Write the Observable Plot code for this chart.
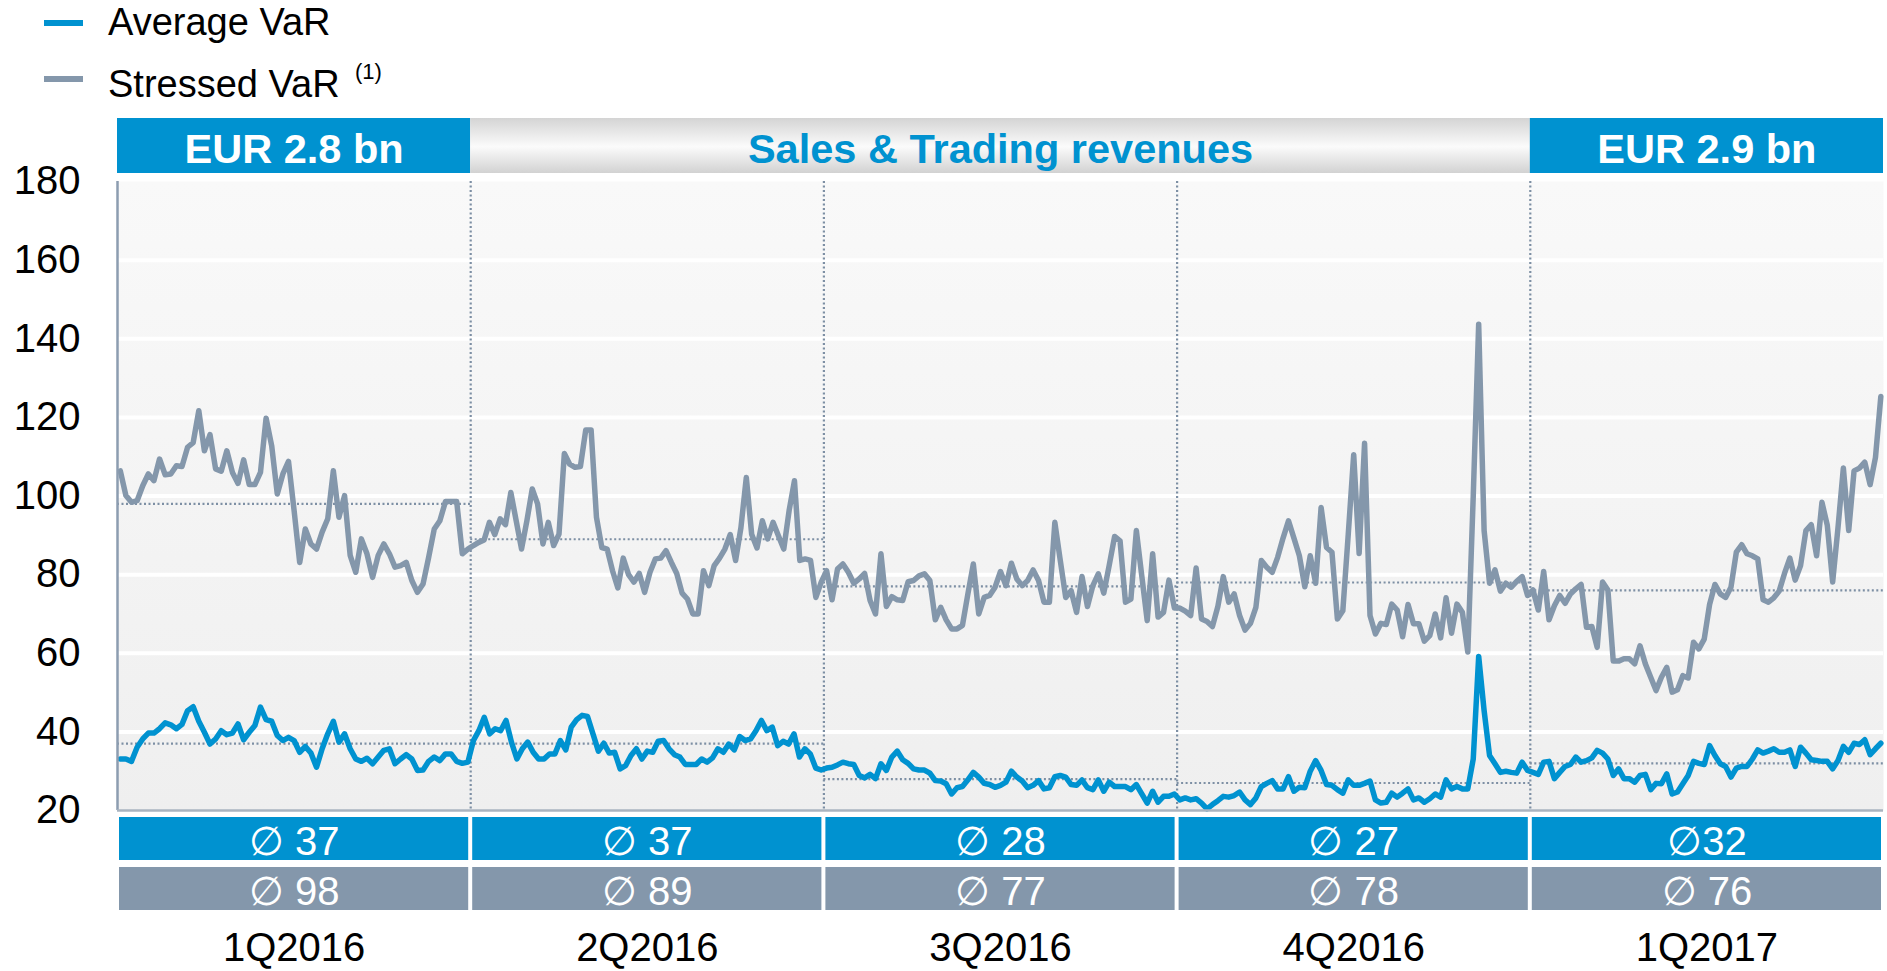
<!DOCTYPE html>
<html>
<head>
<meta charset="utf-8">
<script src="https://cdn.jsdelivr.net/npm/d3@7"></script>
<script src="https://cdn.jsdelivr.net/npm/@observablehq/plot@0.6"></script>
<style>
  body { margin: 0; background: #fff; font-family: "Liberation Sans", Arial, sans-serif; }
  #page { position: relative; width: 1887px; height: 971px; overflow: hidden; background: #fff; }
  .sw { position: absolute; width: 39px; height: 6px; }
  .lt { position: absolute; font-size: 38px; line-height: 44px; color: #000; white-space: nowrap; }
  .sup { position: absolute; font-size: 22px; line-height: 26px; color: #000; white-space: nowrap; }
  .slot { position: absolute; left: 0; }
</style>
</head>
<body>
<div id="page">
  <div id="legend"></div>
  <div class="slot" id="hdr" style="top:118px"></div>
  <div class="slot" id="main" style="top:173px"></div>
  <div class="slot" id="bot" style="top:810px"></div>
</div>
<script>
// ---------------- DATA ----------------
const quarters = ["1Q2016", "2Q2016", "3Q2016", "4Q2016", "1Q2017"];
const seriesNames = ["Average VaR", "Stressed VaR"];

// Quarterly averages (dotted lines and boxes)
const avgVaR = [37, 37, 28, 27, 32];
const avgSVaR = [98, 89, 77, 78, 76];
const avgVaRLabels = ["∅ 37", "∅ 37", "∅ 28", "∅ 27", "∅32"];
const avgSVaRLabels = ["∅ 98", "∅ 89", "∅ 77", "∅ 78", "∅ 76"];

// Header banner
const headerLabels = ["EUR 2.8 bn", "Sales & Trading revenues", "EUR 2.9 bn"];
const headerFromQuarter = [0, 1, 4];
const headerToQuarter = [1, 4, 5];
const headerHighlighted = [true, false, true];

const yTicks = [20, 40, 60, 80, 100, 120, 140, 160, 180];

// Daily Average VaR (EUR m), per quarter
const var_1Q2016 = [33.1,33.1,32.5,36.1,38.2,39.7,39.7,40.8,42.3,41.8,40.8,41.9,45.4,46.4,42.7,39.9,36.9,38.2,40.3,39.3,39.7,42.0,38.0,39.9,41.6,46.3,43.1,42.7,39.1,37.8,38.6,37.8,34.8,36.3,34.6,31.0,35.7,39.5,42.7,37.4,39.5,35.7,33.1,32.5,33.3,31.9,33.6,35.3,35.7,31.9,33.1,34.2,33.1,30.2,30.3,32.5,33.6,32.7,34.4,34.4,32.5,32.0,32.3];
const var_2Q2016 = [37.8,40.3,43.7,39.5,40.8,40.3,42.9,37.4,33.1,35.7,37.4,34.8,33.1,33.1,34.4,34.4,37.8,35.4,41.2,43.1,44.2,43.9,39.5,35.1,37.1,34.6,34.8,30.6,31.4,34.0,35.7,33.1,35.1,34.8,37.6,37.8,35.7,34.2,33.6,31.7,31.7,31.7,33.1,32.3,33.4,35.7,34.8,36.9,35.4,38.8,37.8,38.2,40.3,42.9,40.3,41.2,36.5,37.6,36.9,39.5,33.6,35.7,34.4,30.8,30.3];
const var_3Q2016 = [30.8,31.0,31.6,32.3,31.9,31.7,28.9,28.3,29.2,28.1,31.9,30.2,33.6,35.1,32.9,32.0,30.6,30.3,30.3,29.5,27.6,27.5,26.8,24.2,25.8,26.1,27.8,29.7,28.5,26.9,26.6,25.9,26.4,27.2,30.0,28.5,27.5,25.8,26.4,27.6,25.5,25.8,28.6,28.9,28.5,26.6,26.4,27.8,25.8,25.3,27.8,24.9,27.2,26.1,26.1,26.1,25.3,26.6,24.2,21.9,24.9,22.1,23.6,23.6,24.2];
const var_4Q2016 = [22.7,23.2,22.7,23.0,21.9,20.4,21.5,22.5,23.6,23.4,23.8,24.7,22.7,21.5,23.2,26.1,26.9,27.6,25.5,25.5,28.6,24.9,25.9,25.8,30.0,32.7,30.2,26.6,26.4,25.3,24.4,27.8,26.4,26.4,26.9,27.5,22.7,21.9,22.1,24.4,23.4,24.4,25.5,22.7,23.2,22.1,23.0,24.2,23.4,27.8,25.5,26.1,25.5,25.5,33.1,59.2,45.4,34.0,31.9,29.7,30.0,29.7,29.5,32.3,30.2];
const var_1Q2017 = [29.7,29.2,32.3,32.5,28.1,29.7,31.2,31.7,33.6,32.3,32.7,33.4,35.3,34.6,33.1,28.9,30.6,28.1,28.1,27.2,28.9,29.2,25.3,26.9,26.8,29.3,24.2,24.7,26.8,28.9,32.5,32.0,31.7,36.5,34.0,31.9,31.2,28.5,30.8,31.2,31.2,33.1,35.4,34.6,35.1,35.7,34.8,34.8,35.4,31.2,36.1,34.6,32.9,32.7,32.5,32.5,30.6,32.7,36.3,34.8,37.1,36.8,38.0,34.2,35.7,37.1];

// Daily Stressed VaR (EUR m), per quarter
const svar_1Q2016 = [106.4,100.1,98.4,98.8,102.6,105.6,103.9,109.4,105.4,105.6,107.7,107.5,112.4,113.6,121.7,111.5,115.6,106.9,106.3,111.5,106.0,103.2,109.2,102.9,102.9,106.0,119.8,112.8,100.5,105.6,108.8,96.3,83.1,91.6,87.8,86.5,90.8,94.2,106.4,94.6,100.1,84.9,80.6,89.1,85.3,79.3,84.9,87.8,85.3,81.9,82.3,83.1,78.5,75.5,77.6,84.4,91.6,93.7,98.6,98.6,98.6,85.3,86.5];
const svar_2Q2016 = [87.4,88.2,88.8,93.3,90.2,94.2,92.7,100.9,93.7,86.5,93.7,101.8,98.0,87.8,93.3,87.4,90.3,110.8,108.1,107.3,107.5,116.8,116.8,94.6,86.9,86.5,81.0,76.6,84.2,80.0,78.1,80.3,75.5,80.6,84.0,84.2,86.1,83.1,80.3,75.3,73.8,70.0,70.0,81.0,77.2,82.3,84.2,86.5,90.2,83.6,92.0,104.7,90.3,86.8,93.7,89.1,93.3,89.9,86.5,96.3,103.9,83.6,84.0,83.6,74.2,78.1];
const svar_3Q2016 = [81.0,73.6,81.4,82.7,80.6,77.8,78.9,80.3,73.4,70.0,85.3,71.9,74.4,73.6,73.4,78.2,78.5,79.7,80.2,78.5,68.5,71.7,68.5,66.2,66.2,67.1,75.1,82.7,70.0,74.2,74.7,76.8,80.8,77.2,82.9,78.9,77.2,78.5,81.2,78.5,73.0,73.0,93.3,83.6,74.2,75.9,70.4,79.5,71.9,77.2,80.2,75.3,82.3,89.7,88.6,73.0,73.8,91.2,79.7,68.3,85.3,69.2,70.4,78.6,71.5];
const svar_4Q2016 = [71.5,70.7,69.6,81.7,68.7,68.1,66.8,71.9,79.5,73.0,75.1,69.6,65.9,67.6,71.7,83.6,81.9,80.6,84.4,89.3,93.7,89.3,84.8,76.9,84.8,77.8,97.1,86.9,85.7,68.7,70.8,90.3,110.5,85.4,113.4,69.6,64.9,67.6,67.3,72.5,71.0,64.2,72.4,67.5,67.5,63.1,64.5,70.0,63.9,74.1,65.1,72.5,70.4,60.3,100.0,143.7,91.2,77.8,81.2,75.8,77.8,76.8,78.3,79.5,74.7];
const svar_1Q2017 = [76.1,71.0,80.8,68.5,72.1,74.7,72.7,75.1,76.4,77.5,66.6,66.8,61.5,78.1,76.1,58.0,58.0,58.6,58.6,57.3,61.9,57.3,53.9,50.5,53.9,56.4,50.1,50.7,54.3,53.7,62.8,61.1,63.6,72.4,77.5,75.1,74.2,76.8,85.7,87.6,85.3,84.8,84.0,73.6,73.0,74.1,75.8,80.3,84.2,78.6,82.3,91.2,92.7,84.8,98.4,92.5,78.1,92.0,107.1,91.2,106.4,107.1,108.6,102.9,109.8,125.3];

// ---------------- STYLE ----------------
const BLUE = "#0092d0";
const GRAY = "#8497ab";
const DOT = "#7d8fa4";
const FONT = '"Liberation Sans", Arial, Helvetica, sans-serif';
const W = 1887;
const ML = 117, MR = 4;

// ---------------- DERIVED TABLES ----------------
const varByQuarter = [var_1Q2016, var_2Q2016, var_3Q2016, var_4Q2016, var_1Q2017];
const svarByQuarter = [svar_1Q2016, svar_2Q2016, svar_3Q2016, svar_4Q2016, svar_1Q2017];
function seriesPoints(byQuarter) {
  return byQuarter.flatMap((vals, q) => vals.map((v, i) => ({t: q + (i + 0.5) / vals.length, v})));
}
const varPts = seriesPoints(varByQuarter);
const svarPts = seriesPoints(svarByQuarter);
const avgLines = quarters.flatMap((q, i) => [
  {q0: i, q1: i + 1, v: avgVaR[i]},
  {q0: i, q1: i + 1, v: avgSVaR[i]}
]);
const boundaries = quarters.slice(1).map((q, i) => i + 1);
const headerData = headerLabels.map((label, i) => ({
  label, q0: headerFromQuarter[i], q1: headerToQuarter[i], hi: headerHighlighted[i]
}));
const rowsData = quarters.flatMap((q, i) => [
  {q0: i, q1: i + 1, row: "VaR", label: avgVaRLabels[i], fill: BLUE},
  {q0: i, q1: i + 1, row: "SVaR", label: avgSVaRLabels[i], fill: GRAY}
]);

// ---------------- LEGEND ----------------
const legend = d3.select("#legend");
[BLUE, GRAY].forEach((c, i) => {
  legend.append("div").attr("class", "sw")
    .style("left", "44px").style("top", (20 + i * 56) + "px").style("background", c);
  legend.append("div").attr("class", "lt")
    .style("left", "108px").style("top", (i * 62) + "px").text(seriesNames[i]);
});
legend.append("div").attr("class", "sup").style("left", "355px").style("top", "59px").text("(1)");

function addGradient(svg, id, stops) {
  const defs = d3.select(svg).insert("defs", ":first-child");
  const g = defs.append("linearGradient").attr("id", id)
    .attr("x1", 0).attr("y1", 0).attr("x2", 0).attr("y2", 1);
  stops.forEach(([o, c]) => g.append("stop").attr("offset", o).attr("stop-color", c));
}

const baseStyle = {background: "transparent", overflow: "visible", fontFamily: FONT, fontSize: "40px"};

// ---------------- HEADER ----------------
const header = Plot.plot({
  width: W, height: 55,
  marginTop: 0, marginBottom: 0, marginLeft: ML, marginRight: MR,
  x: {domain: [0, quarters.length], axis: null},
  color: {type: "identity"},
  style: baseStyle,
  marks: [
    Plot.barX(headerData, {x1: "q0", x2: "q1", fill: d => d.hi ? BLUE : "url(#hdrGrad)"}),
    Plot.text(headerData, {
      x: d => (d.q0 + d.q1) / 2, frameAnchor: "middle", lineAnchor: "middle", text: "label",
      fill: d => d.hi ? "white" : BLUE, fontSize: 41.5, fontWeight: "bold", dy: 4
    })
  ]
});
addGradient(header, "hdrGrad", [[0, "#d4d4d4"], [0.52, "#fbfbfb"], [1, "#d2d2d2"]]);
document.getElementById("hdr").appendChild(header);

// ---------------- MAIN CHART ----------------
const main = Plot.plot({
  width: W, height: 637,
  marginTop: 8, marginBottom: 0, marginLeft: ML, marginRight: MR,
  x: {domain: [0, quarters.length], axis: null},
  y: {domain: [20, 180], axis: null},
  style: baseStyle,
  marks: [
    Plot.frame({fill: "#f4f4f4", stroke: "none"}),
    Plot.ruleY(yTicks.slice(1, -1), {stroke: "white", strokeWidth: 4}),
    Plot.ruleX(boundaries, {stroke: DOT, strokeWidth: 2.2, strokeDasharray: "2,2.5"}),
    Plot.ruleY(avgLines, {y: "v", x1: "q0", x2: "q1", stroke: DOT, strokeWidth: 2.2, strokeDasharray: "2,2.5"}),
    Plot.line(svarPts, {x: "t", y: "v", stroke: GRAY, strokeWidth: 5.5, strokeLinejoin: "round", strokeLinecap: "round"}),
    Plot.line(varPts, {x: "t", y: "v", stroke: BLUE, strokeWidth: 5.5, strokeLinejoin: "round", strokeLinecap: "round"}),
    Plot.ruleX([0], {stroke: "#8c9db0", strokeWidth: 2.5}),
    Plot.ruleY([20], {stroke: "#aab4c0", strokeWidth: 2.5}),
    Plot.text(yTicks, {y: d => d, frameAnchor: "left", lineAnchor: "middle", textAnchor: "end", dx: -37, fontSize: 40, fill: "black", text: d => String(d)})
  ]
});
addGradient(main, "bgGrad", [[0, "#f9f9f9"], [1, "#efefef"]]);
const fr = main.querySelector('[aria-label="frame"]');
if (fr) {
  fr.setAttribute("fill", "url(#bgGrad)");
  fr.querySelectorAll("rect").forEach(r => r.setAttribute("fill", "url(#bgGrad)"));
}
document.getElementById("main").appendChild(main);

// ---------------- BOTTOM ROWS ----------------
const bottom = Plot.plot({
  width: W, height: 161,
  marginTop: 7, marginBottom: 61, marginLeft: ML, marginRight: MR,
  x: {domain: [0, quarters.length], axis: null},
  y: {domain: ["VaR", "SVaR"], axis: null, paddingInner: 0.14, paddingOuter: 0},
  color: {type: "identity"},
  style: baseStyle,
  marks: [
    Plot.barX(rowsData, {x1: "q0", x2: "q1", y: "row", fill: "fill", insetLeft: 2, insetRight: 2}),
    Plot.text(rowsData, {x: d => (d.q0 + d.q1) / 2, y: "row", lineAnchor: "middle", text: "label", fill: "white", fontSize: 40, dy: 3}),
    Plot.text(quarters, {x: (d, i) => i + 0.5, frameAnchor: "bottom", lineAnchor: "middle", text: d => d, fontSize: 40, fill: "black", dy: 38})
  ]
});
document.getElementById("bot").appendChild(bottom);
</script>
</body>
</html>
